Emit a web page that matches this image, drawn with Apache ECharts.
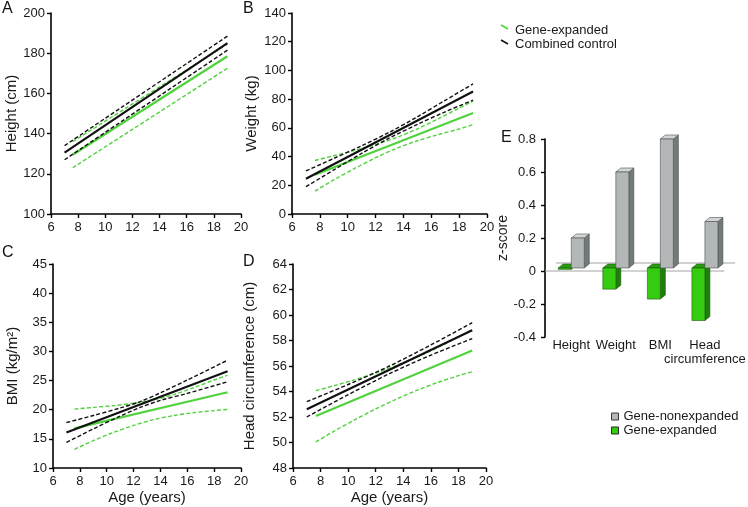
<!DOCTYPE html>
<html>
<head>
<meta charset="utf-8">
<script src="https://cdn.jsdelivr.net/npm/echarts@6/dist/echarts.min.js"></script>
<style>
html,body{margin:0;padding:0;background:#fff;}
#chart{width:748px;height:507px;}
</style>
</head>
<body>
<div id="chart"></div>
<script>
// ---------- Data ----------
// Panel A: Height (cm)
const ageA_ctrl = [7, 19];
const heightCtrl = [130.5, 185.0];
const heightCtrlUp = [134.0, 188.5];
const heightCtrlLo = [127.0, 181.5];
const ageA_exp = [7.6, 19];
const heightExp = [129.5, 178.5];
const heightExpUp = [136.0, 184.5];
const heightExpLo = [123.0, 172.5];

// Panel B: Weight (kg)
const ageB_ctrlFit = [7, 19];
const weightCtrl = [24.6, 85.3];
const ageB_ctrl = [7, 9, 11, 13, 15, 17, 19];
const weightCtrlUp = [30.0, 38.7, 47.5, 57.0, 67.7, 79.2, 90.6];
const weightCtrlLo = [19.0, 30.7, 42.2, 53.0, 62.4, 71.2, 79.3];
const ageB_expFit = [7.65, 19];
const weightExp = [27.3, 70.4];
const ageB_exp = [7.65, 9, 10.5, 12, 13.5, 15, 16.5, 18, 19];
const weightExpUp = [37.3, 40.6, 44.3, 48.4, 53.2, 59.3, 66.3, 73.8, 78.6];
const weightExpLo = [16.0, 23.8, 31.7, 39.2, 45.7, 51.0, 55.3, 59.2, 62.2];

// Panel C: BMI (kg/m2)
const ageC_ctrlFit = [7, 19];
const bmiCtrl = [16.1, 26.6];
const ageC_ctrl = [7, 9, 11, 12.5, 14, 16, 19];
const bmiCtrlUp = [17.8, 19.0, 20.3, 21.4, 22.9, 25.1, 28.5];
const bmiCtrlLo = [14.4, 16.7, 18.9, 20.4, 21.6, 22.8, 24.8];
const ageC_expFit = [7.6, 19];
const bmiExp = [16.8, 23.0];
const ageC_exp = [7.6, 9, 10.5, 12, 13.5, 15, 16.5, 18, 19];
const bmiExpUp = [20.1, 20.4, 20.7, 21.1, 21.7, 22.6, 23.8, 25.1, 25.9];
const bmiExpLo = [13.2, 14.7, 16.1, 17.3, 18.3, 19.0, 19.5, 19.85, 20.05];

// Panel D: Head circumference (cm)
const ageD_ctrlFit = [7, 19];
const headCtrl = [52.6, 58.8];
const ageD_ctrl = [7, 10, 13, 16, 19];
const headCtrlUp = [53.2, 54.55, 56.0, 57.65, 59.4];
const headCtrlLo = [52.0, 53.75, 55.4, 56.85, 58.15];
const ageD_expFit = [7.66, 19];
const headExp = [52.07, 57.22];
const ageD_exp = [7.66, 9, 10.5, 12, 13.5, 15, 16.5, 18, 19];
const headExpUp = [54.07, 54.46, 54.93, 55.45, 56.04, 56.7, 57.45, 58.28, 58.86];
const headExpLo = [50.05, 50.9, 51.79, 52.63, 53.4, 54.1, 54.71, 55.24, 55.55];

// Panel E: z-scores
const zCategories = ['Height', 'Weight', 'BMI', 'Head\ncircumference'];
const zNonexpanded = [0.2, 0.6, 0.8, 0.3];
const zExpanded = [0.01, -0.11, -0.17, -0.30];

// ---------- Styling ----------
const FONT = "'Liberation Sans', Arial, sans-serif";
const GREEN = '#4fd23c';
const BLACK = '#111111';

const chart = echarts.init(document.getElementById('chart'), null, {renderer: 'canvas'});

function pairs(xs, ys) { return xs.map((x, i) => [x, ys[i]]); }
function lineSeries(idx, name, xs, ys, color, dashed) {
  return {
    type: 'line', name: name, xAxisIndex: idx, yAxisIndex: idx,
    data: pairs(xs, ys), showSymbol: false, symbol: 'none', smooth: 0.3,
    silent: true, animation: false,
    lineStyle: dashed ? {color: color, width: 1.4, type: [4, 2.2]} : {color: color, width: 2.2}
  };
}
function panelSeries(idx, ageCtrlFit, ctrl, ageCtrl, ctrlUp, ctrlLo, ageExpFit, exp, ageExp, expUp, expLo) {
  return [
    lineSeries(idx, 'Gene-expanded', ageExp, expUp, GREEN, true),
    lineSeries(idx, 'Gene-expanded', ageExp, expLo, GREEN, true),
    lineSeries(idx, 'Gene-expanded', ageExpFit, exp, GREEN, false),
    lineSeries(idx, 'Combined control', ageCtrl, ctrlUp, BLACK, true),
    lineSeries(idx, 'Combined control', ageCtrl, ctrlLo, BLACK, true),
    lineSeries(idx, 'Combined control', ageCtrlFit, ctrl, BLACK, false)
  ];
}

const axisLineStyle = {show: true, onZero: false, lineStyle: {color: '#000', width: 1.6}};
const tickStyle = {show: true, inside: false, length: 4, lineStyle: {color: '#000', width: 1.4}};
const labelStyle = {color: '#1a1a1a', fontSize: 13, fontFamily: FONT};

function ageAxis(idx, withName) {
  const ax = {
    type: 'value', gridIndex: idx, min: 6, max: 20, interval: 2,
    axisLine: axisLineStyle, axisTick: tickStyle, splitLine: {show: false},
    axisLabel: Object.assign({margin: 7}, labelStyle)
  };
  if (withName) {
    ax.name = 'Age (years)';
    ax.nameLocation = 'middle';
    ax.nameGap = 22;
    ax.nameTextStyle = {fontSize: 15, fontFamily: FONT, color: '#1a1a1a'};
  }
  return ax;
}
function valAxis(idx, min, max, interval, name, gap) {
  return {
    type: 'value', gridIndex: idx, min: min, max: max, interval: interval,
    axisLine: axisLineStyle, axisTick: tickStyle, splitLine: {show: false},
    axisLabel: Object.assign({margin: 6}, labelStyle),
    name: name, nameLocation: 'middle', nameGap: gap, nameRotate: 90,
    nameTextStyle: {fontSize: 15, fontFamily: FONT, color: '#1a1a1a'}
  };
}

// 3D-looking bars for panel E
const DX = 5, DY = 4, BW = 13;
function barRenderer(isGray) {
  const front = isGray ? '#b3b7b7' : '#33cc11';
  const sideC = isGray ? '#727a7a' : '#1f7f0b';
  const topC = isGray ? '#d2d6d6' : '#2a9c12';
  const edge = isGray ? '#4a4f4f' : '#1f5a10';
  return function (params, api) {
    const c = api.value(0), v = api.value(1);
    const p0 = api.coord([c, 0]);
    const pv = api.coord([c, v]);
    const base = p0[1] - 3;
    const x0 = isGray ? p0[0] : p0[0] - BW;
    const x1 = x0 + BW;
    const yT = Math.min(base, pv[1]);
    const yB = Math.max(base, pv[1]);
    const st = {stroke: edge, lineWidth: 0.6};
    return {
      type: 'group',
      children: [
        {type: 'polygon', shape: {points: [[x1, yT], [x1 + DX, yT - DY], [x1 + DX, yB - DY], [x1, yB]]},
          style: Object.assign({fill: sideC}, st)},
        {type: 'polygon', shape: {points: [[x0, yT], [x0 + DX, yT - DY], [x1 + DX, yT - DY], [x1, yT]]},
          style: Object.assign({fill: topC}, st)},
        {type: 'rect', shape: {x: x0, y: yT, width: BW, height: yB - yT},
          style: Object.assign({fill: front}, st)}
      ]
    };
  };
}

const series = [].concat(
  panelSeries(0, ageA_ctrl, heightCtrl, ageA_ctrl, heightCtrlUp, heightCtrlLo, ageA_exp, heightExp, ageA_exp, heightExpUp, heightExpLo),
  panelSeries(1, ageB_ctrlFit, weightCtrl, ageB_ctrl, weightCtrlUp, weightCtrlLo, ageB_expFit, weightExp, ageB_exp, weightExpUp, weightExpLo),
  panelSeries(2, ageC_ctrlFit, bmiCtrl, ageC_ctrl, bmiCtrlUp, bmiCtrlLo, ageC_expFit, bmiExp, ageC_exp, bmiExpUp, bmiExpLo),
  panelSeries(3, ageD_ctrlFit, headCtrl, ageD_ctrl, headCtrlUp, headCtrlLo, ageD_expFit, headExp, ageD_exp, headExpUp, headExpLo),
  [
    { // floor lines of the 3D bar chart
      type: 'custom', name: 'floor', xAxisIndex: 4, yAxisIndex: 4, silent: true, animation: false,
      data: [[0, 0]],
      renderItem: function (params, api) {
        const p = api.coord([0, 0]);
        const band = api.size([1, 0])[0];
        const left = p[0] - band / 2;
        const right = left + band * zCategories.length;
        return {
          type: 'group', children: [
            {type: 'line', shape: {x1: left - 4, y1: p[1], x2: right - 3, y2: p[1]}, style: {stroke: '#a3a3a3', lineWidth: 1}},
            {type: 'line', shape: {x1: left + 7, y1: p[1] - 8, x2: right + 8, y2: p[1] - 8}, style: {stroke: '#a3a3a3', lineWidth: 1}}
          ]
        };
      }
    },
    {
      type: 'custom', name: 'Gene-expanded', xAxisIndex: 4, yAxisIndex: 4, silent: true, animation: false,
      itemStyle: {color: '#33cc11'},
      data: zExpanded.map((v, i) => [i, v]),
      renderItem: barRenderer(false)
    },
    {
      type: 'custom', name: 'Gene-nonexpanded', xAxisIndex: 4, yAxisIndex: 4, silent: true, animation: false,
      itemStyle: {color: '#b3b7b7'},
      data: zNonexpanded.map((v, i) => [i, v]),
      renderItem: barRenderer(true)
    }
  ]
);

function letter(t, x, y) {
  return {type: 'text', left: x, top: y, style: {text: t, fontSize: 16, fontFamily: FONT, fill: '#111'}};
}

const option = {
  backgroundColor: '#ffffff',
  animation: false,
  textStyle: {fontFamily: FONT},
  grid: [
    {left: 51, top: 13, width: 190, height: 201},
    {left: 292, top: 13, width: 195, height: 201},
    {left: 53, top: 264, width: 188, height: 204},
    {left: 293, top: 264, width: 193, height: 204},
    {left: 549, top: 139, width: 184, height: 198}
  ],
  xAxis: [
    ageAxis(0, false), ageAxis(1, false), ageAxis(2, true), ageAxis(3, true),
    {
      type: 'category', gridIndex: 4, data: zCategories, position: 'bottom',
      axisLine: {show: false}, axisTick: {show: false}, splitLine: {show: false},
      axisLabel: {margin: 1, fontSize: 13, lineHeight: 14, fontFamily: FONT, color: '#1a1a1a', interval: 0}
    }
  ],
  yAxis: [
    valAxis(0, 100, 200, 20, 'Height (cm)', 29),
    valAxis(1, 0, 140, 20, 'Weight (kg)', 33),
    valAxis(2, 10, 45, 5, 'BMI (kg/m²)', 33),
    valAxis(3, 48, 64, 2, 'Head circumference (cm)', 36),
    Object.assign(valAxis(4, -0.4, 0.8, 0.2, 'z-score', 30), {offset: 4, axisLabel: Object.assign({margin: 9}, labelStyle), nameTextStyle: {fontSize: 14, fontFamily: FONT, color: '#1a1a1a'}})
  ],
  legend: [{
    data: [
      {name: 'Gene-nonexpanded', icon: 'rect', itemStyle: {color: '#b3b7b7', borderColor: '#3a3a3a', borderWidth: 1}},
      {name: 'Gene-expanded', icon: 'rect', itemStyle: {color: '#33cc11', borderColor: '#2a2a2a', borderWidth: 1}}
    ],
    orient: 'vertical', left: 606, top: 405, itemWidth: 7, itemHeight: 7, itemGap: 1,
    selectedMode: false, textStyle: {fontSize: 13, fontFamily: FONT, color: '#1a1a1a'}
  }],
  graphic: [
    letter('A', 2, 1), letter('B', 243, 1), letter('C', 2, 245), letter('D', 243, 254), letter('E', 501, 130),
    {type: 'line', shape: {x1: 501, y1: 25, x2: 508, y2: 29}, style: {stroke: GREEN, lineWidth: 1.6}},
    {type: 'text', left: 515, top: 24, style: {text: 'Gene-expanded', fontSize: 13, fontFamily: FONT, fill: '#1a1a1a'}},
    {type: 'line', shape: {x1: 501, y1: 40, x2: 508, y2: 44}, style: {stroke: BLACK, lineWidth: 1.6}},
    {type: 'text', left: 515, top: 38, style: {text: 'Combined control', fontSize: 13, fontFamily: FONT, fill: '#1a1a1a'}}
  ],
  series: series
};
chart.setOption(option);
</script>
</body>
</html>
